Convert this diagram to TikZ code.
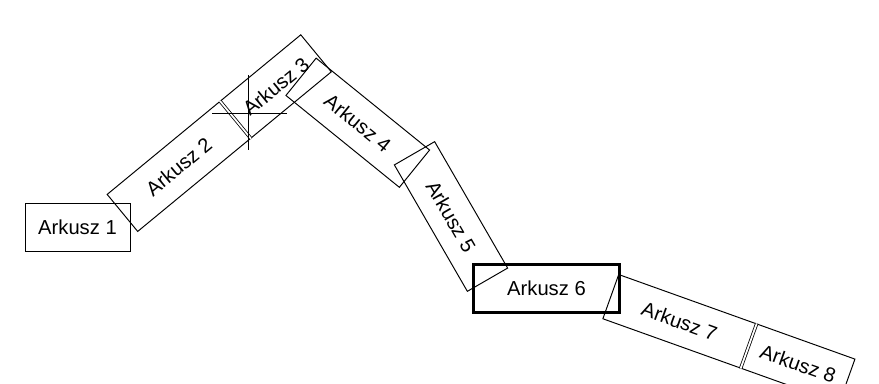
\documentclass[tikz,border=0pt]{standalone}
\usepackage{fontspec}
\setmainfont{Liberation Sans}
\usepackage{tikz}
\usetikzlibrary{calc}

\tikzset{
  arkusz/.style={draw, line width=0.55pt, minimum width=2.92cm, minimum height=0.96cm,
    inner sep=0pt, font=\fontsize{11.5}{13}\selectfont},
  krotki/.style={arkusz, minimum width=2.08cm},
  styk/.style={double, double distance=1pt, line width=0.45pt},
}

\begin{document}
\begin{tikzpicture}[x=0.02cm, y=-0.02cm]
\useasboundingbox (0,0) rectangle (879,384);
\clip (0,0) rectangle (879,384);
% arkusze
\node[krotki, minimum width=2.1cm] (a1) at (77.5,227) {Arkusz 1};
\node[arkusz, rotate=39.5] (a2) at (178.75,166.5) {Arkusz 2};
\node[krotki, rotate=39.5, anchor=west] (a3) at (a2.east) {Arkusz 3};
\node[arkusz, rotate=-39] (a4) at (357.75,122.75) {Arkusz 4};
\node[arkusz, rotate=-60, minimum height=0.93cm] (a5) at (451,216.5) {Arkusz 5};
\node[arkusz, line width=1.2pt] (a6) at (546.5,288.5) {Arkusz 6};
\node[arkusz, rotate=-19.7, minimum height=0.94cm] (a7) at (679.5,321.25) {Arkusz 7};
\node[krotki, rotate=-19.7, minimum height=0.94cm, anchor=west] (a8) at (a7.east) {Arkusz 8};
% styki
\draw[styk] (a2.north east) -- (a2.south east);
\draw[styk] (a7.north east) -- (a7.south east);
% znacznik
\coordinate (znak) at (248,113);
\draw[line width=0.55pt] ($(znak)+(-36,0)$) -- ($(znak)+(39,0)$);
\draw[line width=0.55pt] ($(znak)+(0,-38)$) -- ($(znak)+(0,37)$);
\end{tikzpicture}
\end{document}
